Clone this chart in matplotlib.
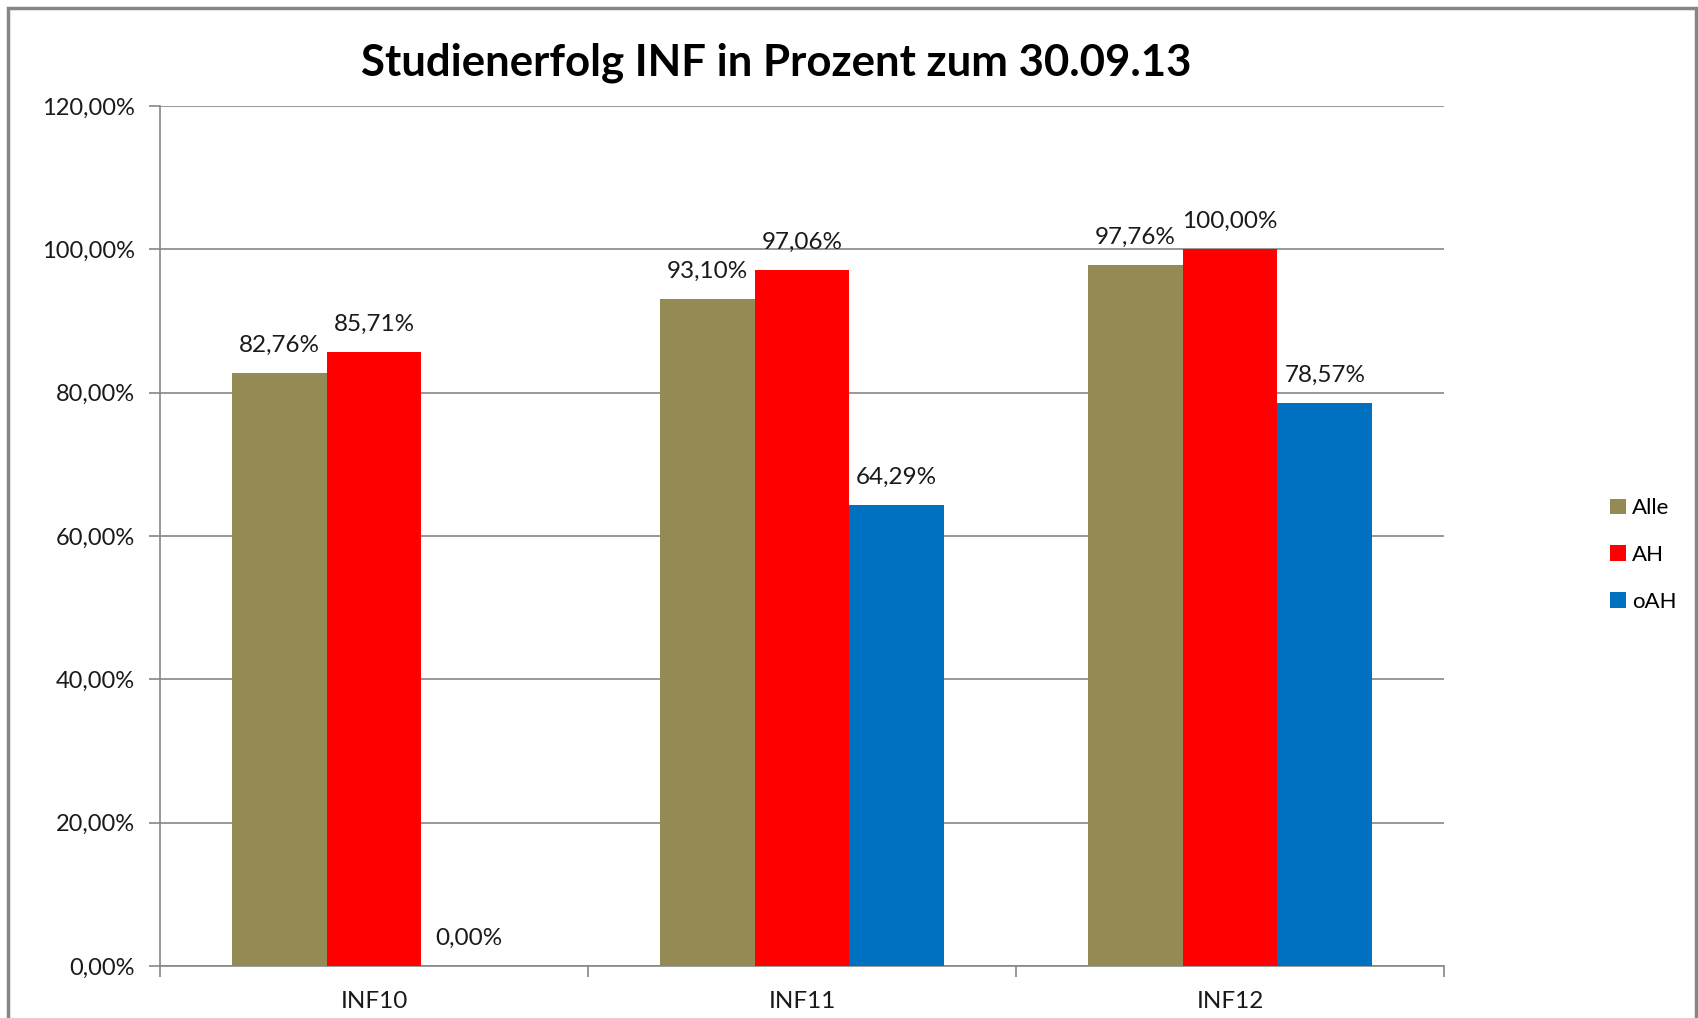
import matplotlib
matplotlib.use("Agg")
import matplotlib.pyplot as plt
import numpy as np
from matplotlib.patches import Rectangle

plt.rcParams['font.family'] = ['Lato', 'DejaVu Sans']

# Daten
kategorien = ["INF10", "INF11", "INF12"]
alle = [82.76, 93.10, 97.76]
ah = [85.71, 97.06, 100.00]
oah = [0.00, 64.29, 78.57]
serien = ["Alle", "AH", "oAH"]
farben = ["#948A54", "#FF0000", "#0070C0"]
y_ticks = [0, 20, 40, 60, 80, 100, 120]

fig = plt.figure(figsize=(16.98, 10.18), dpi=100)
ax = fig.add_axes([160 / 1698, 1 - 966 / 1018, (1444 - 160) / 1698, (966 - 106) / 1018])

# Rahmen um das Diagramm
fig.patches.append(Rectangle((8 / 1698, -0.05), (1696 - 8) / 1698, 1.05 - 8 / 1018,
                             transform=fig.transFigure, fill=False,
                             edgecolor="#868686", linewidth=2.5))

x = np.arange(len(kategorien))
breite = 0.2215
for i, (werte, name, farbe) in enumerate(zip([alle, ah, oah], serien, farben)):
    pos = x + (i - 1) * breite
    ax.bar(pos, werte, breite, color=farbe, label=name, zorder=3)
    for p, w in zip(pos, werte):
        txt = ("%.2f%%" % w).replace(".", ",")
        ax.annotate(txt, (p, w), xytext=(0, 20), textcoords="offset points",
                    ha="center", va="center", fontsize=17.5, color="#1a1a1a")

ax.set_xlim(-0.5, 2.5)
ax.set_ylim(0, 120)
ax.set_yticks(y_ticks)
ax.set_yticklabels([("%.2f%%" % v).replace(".", ",") for v in y_ticks], fontsize=17, color="#1a1a1a")
ax.set_xticks(x)
ax.set_xticklabels(kategorien, fontsize=17.5, color="#1a1a1a")
ax.set_xticks([-0.5, 0.5, 1.5, 2.5], minor=True)
ax.tick_params(axis="x", which="major", length=0, pad=18)
ax.tick_params(axis="x", which="minor", length=8, color="#868686", width=1.2)
ax.tick_params(axis="y", length=8, color="#868686", width=1.2, pad=10)

ax.grid(axis="y", color="#868686", linewidth=1.2, zorder=0)
for s in ["top", "right"]:
    ax.spines[s].set_visible(False)
for s in ["left", "bottom"]:
    ax.spines[s].set_color("#868686")
    ax.spines[s].set_linewidth(1.2)

fig.text(776 / 1698, 1 - 63 / 1018, "Studienerfolg INF in Prozent zum 30.09.13",
         ha="center", va="center", fontsize=31.5, fontweight="bold", color="black")

ax.legend(loc="center left", bbox_to_anchor=(1590 / 1698, 1 - 555 / 1018),
          bbox_transform=fig.transFigure, frameon=False, fontsize=16,
          handlelength=0.7, handleheight=0.7, handletextpad=0.3, labelspacing=1.2)

fig.savefig("out.png", dpi=100)
